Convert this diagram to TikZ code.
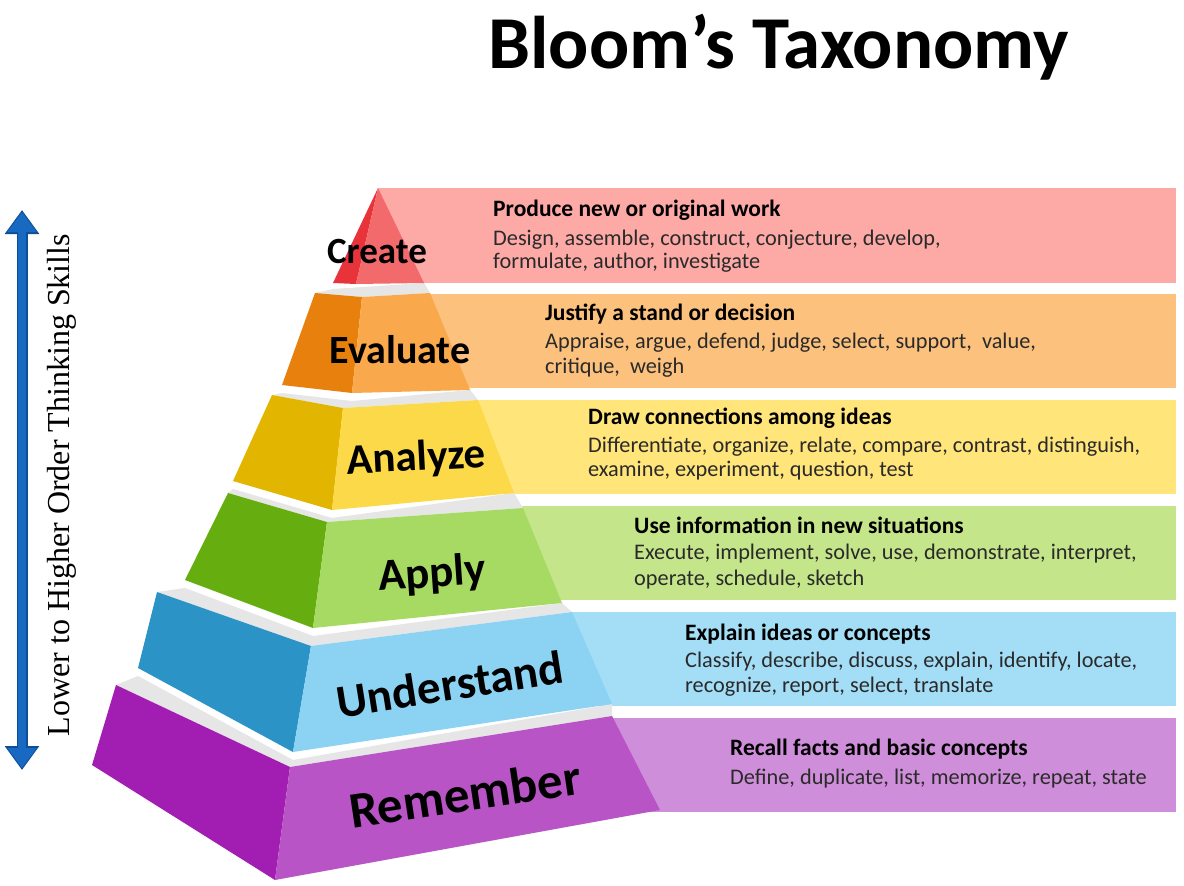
\documentclass[tikz,border=0pt]{standalone}
\usepackage{fontspec}
\setmainfont{Carlito}
\newfontfamily\sidefont{Liberation Serif}
\usetikzlibrary{arrows.meta}
\definecolor{bandC}{HTML}{FDA9A6}\definecolor{Cdark}{HTML}{E8333A}\definecolor{Cfront}{HTML}{F36A6C}
\definecolor{bandE}{HTML}{FCC17C}\definecolor{Edark}{HTML}{E8800E}\definecolor{Efront}{HTML}{F9A84C}
\definecolor{bandA}{HTML}{FFE57A}\definecolor{Adark}{HTML}{E2B600}\definecolor{Afront}{HTML}{FBD949}
\definecolor{bandP}{HTML}{C5E58A}\definecolor{Pdark}{HTML}{66AE10}\definecolor{Pfront}{HTML}{A6DA62}
\definecolor{bandU}{HTML}{A3DDF6}\definecolor{Udark}{HTML}{2C93C6}\definecolor{Ufront}{HTML}{8CD3F3}
\definecolor{bandR}{HTML}{CF8ED9}\definecolor{Rdark}{HTML}{A21DB2}\definecolor{Rfront}{HTML}{B854C6}
\definecolor{arrowblue}{HTML}{1769C2}
\definecolor{arrowedge}{HTML}{0E4E96}
\definecolor{topgray}{HTML}{E6E6E6}
\definecolor{bodytext}{HTML}{2A2A2A}
\begin{document}
\begin{tikzpicture}[x=1pt,y=-1pt,
  head/.style={anchor=base west, inner sep=0pt, font=\fontsize{23.5}{26}\selectfont\bfseries, text=black},
  body/.style={anchor=base west, inner sep=0pt, font=\fontsize{22.3}{25}\selectfont, text=bodytext},
  lvl/.style={inner sep=0pt, text=black},
  topface/.style={fill=topgray}]
\useasboundingbox (0,0) rectangle (1184,886);
\fill[white] (0,0) rectangle (1184,886);

% title
\node[anchor=north west, inner sep=0pt] (title) at (488,14) {\resizebox*{580pt}{66pt}{\bfseries Bloom’s Taxonomy}};

% side arrow and label
\coordinate (atop) at (22,210);
\coordinate (abot) at (22,770);
\draw[line width=11pt, arrowedge, {Triangle[width=33pt,length=24pt]}-{Triangle[width=33pt,length=24pt]}] (atop) -- (abot);
\draw[line width=8pt, arrowblue, shorten <=2pt, shorten >=2pt, {Triangle[width=28pt,length=20pt]}-{Triangle[width=28pt,length=20pt]}] (atop) -- (abot);
\node[rotate=90, inner sep=0pt, font=\sidefont\fontsize{32}{32}\selectfont] (side) at (62,485) {Lower to Higher Order Thinking Skills};

% bands
\fill[bandC] (378,188) rectangle (1176,283);
\fill[bandE] (428,294) rectangle (1176,388);
\fill[bandA] (475,400) rectangle (1176,494);
\fill[bandP] (520,506) rectangle (1176,600);
\fill[bandU] (570,612) rectangle (1176,706);
\fill[bandR] (610,718) rectangle (1176,812);

% coordinates of layers
\coordinate (RL) at (116,685); \coordinate (RM) at (290,767); \coordinate (RR) at (612,716);
\coordinate (RBL) at (92,765); \coordinate (RBM) at (275,880); \coordinate (RBR) at (660,810);
\coordinate (UL) at (157,592); \coordinate (UM) at (311,646); \coordinate (UR) at (572,612);
\coordinate (UBL) at (138,668); \coordinate (UBM) at (293,752); \coordinate (UBR) at (612,704);
\coordinate (PL) at (228,493); \coordinate (PM) at (327,522); \coordinate (PR) at (523,508);
\coordinate (PBL) at (185,580); \coordinate (PBM) at (313,628); \coordinate (PBR) at (562,603);
\coordinate (AL) at (272,395); \coordinate (AM) at (343,408); \coordinate (AR) at (478,400);
\coordinate (ABL) at (233,481); \coordinate (ABM) at (332,510); \coordinate (ABR) at (514,493);
\coordinate (EL) at (315,293); \coordinate (EM) at (362,297); \coordinate (ER) at (430,293);
\coordinate (EBL) at (282,385); \coordinate (EBM) at (352,393); \coordinate (EBR) at (470,390);
\coordinate (CA) at (378,188);
\coordinate (CBL) at (333,283); \coordinate (CBM) at (356,284); \coordinate (CBR) at (424,283);

% Remember
\fill[topface] (RL) -- (RM) -- (RR) -- (UBR) -- ([yshift=-8pt]UBM) -- ([yshift=-8pt]UBL) -- cycle;
\fill[Rdark] (RL) -- (RM) -- (RBM) -- (RBL) -- cycle;
\fill[Rfront] (RM) -- (RR) -- (RBR) -- (RBM) -- cycle;
% Understand
\fill[topface] (UL) -- (UM) -- (UR) -- (PBR) -- ([yshift=-8pt]PBM) -- ([yshift=-8pt]PBL) -- cycle;
\fill[Udark] (UL) -- (UM) -- (UBM) -- (UBL) -- cycle;
\fill[Ufront] (UM) -- (UR) -- (UBR) -- (UBM) -- cycle;
% Apply
\fill[topface] (PL) -- (PM) -- (PR) -- (ABR) -- ([yshift=-8pt]ABM) -- ([yshift=-8pt]ABL) -- cycle;
\fill[Pdark] (PL) -- (PM) -- (PBM) -- (PBL) -- cycle;
\fill[Pfront] (PM) -- (PR) -- (PBR) -- (PBM) -- cycle;
% Analyze
\fill[topface] (AL) -- (AM) -- (AR) -- (EBR) -- ([yshift=-8pt]EBM) -- ([yshift=-8pt]EBL) -- cycle;
\fill[Adark] (AL) -- (AM) -- (ABM) -- (ABL) -- cycle;
\fill[Afront] (AM) -- (AR) -- (ABR) -- (ABM) -- cycle;
% Evaluate
\fill[topface] (EL) -- (EM) -- (ER) -- (CBR) -- ([yshift=-6pt]CBL) -- cycle;
\fill[Edark] (EL) -- (EM) -- (EBM) -- (EBL) -- cycle;
\fill[Efront] (EM) -- (ER) -- (EBR) -- (EBM) -- cycle;
% Create
\fill[Cdark] (CA) -- (CBM) -- (CBL) -- cycle;
\fill[Cfront] (CA) -- (CBR) -- (CBM) -- cycle;

% level labels
\node[lvl, font=\fontsize{37}{37}\selectfont\bfseries] (lC) at (377,252) {Create};
\node[lvl, font=\fontsize{40}{40}\selectfont\bfseries] (lE) at (400,350) {Evaluate};
\node[lvl, font=\fontsize{43}{43}\selectfont\bfseries, rotate=3] (lA) at (416,459) {Analyze};
\node[lvl, font=\fontsize{45}{45}\selectfont\bfseries, rotate=4] (lP) at (432,575) {Apply};
\node[lvl, font=\fontsize{47}{47}\selectfont\bfseries, rotate=9] (lU) at (450,684) {Understand};
\node[lvl, font=\fontsize{51}{51}\selectfont\bfseries, rotate=8.5] (lR) at (465,794) {Remember};

% band texts
\node[head] (hC) at (493,216) {Produce new or original work};
\node[body] (bC1) at (493,245) {Design, assemble, construct, conjecture, develop,};
\node[body] (bC2) at (493,268) {formulate, author, investigate};

\node[head] (hE) at (545,320) {Justify a stand or decision};
\node[body] (bE1) at (545,348) {Appraise, argue, defend, judge, select, support,\ \ value,};
\node[body] (bE2) at (545,373) {critique,\ \ weigh};

\node[head] (hA) at (588,424) {Draw connections among ideas};
\node[body] (bA1) at (588,452) {Differentiate, organize, relate, compare, contrast, distinguish,};
\node[body] (bA2) at (588,476) {examine, experiment, question, test};

\node[head] (hP) at (634,533) {Use information in new situations};
\node[body] (bP1) at (634,559) {Execute, implement, solve, use, demonstrate, interpret,};
\node[body] (bP2) at (634,585) {operate, schedule, sketch};

\node[head] (hU) at (685,640) {Explain ideas or concepts};
\node[body] (bU1) at (685,667) {Classify, describe, discuss, explain, identify, locate,};
\node[body] (bU2) at (685,692) {recognize, report, select, translate};

\node[head] (hR) at (730,755) {Recall facts and basic concepts};
\node[body] (bR1) at (730,784) {Define, duplicate, list, memorize, repeat, state};
\end{tikzpicture}
\end{document}
